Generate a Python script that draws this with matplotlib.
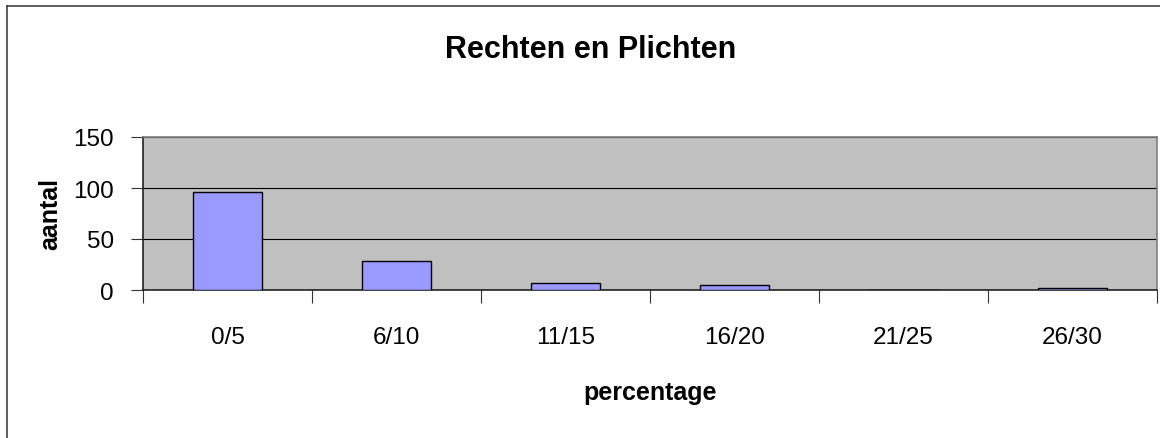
import matplotlib
matplotlib.use("Agg")
import matplotlib.pyplot as plt
from matplotlib.lines import Line2D
import numpy as np

# data
categories = ['0/5', '6/10', '11/15', '16/20', '21/25', '26/30']
aantal = [96, 28, 7, 5, 0, 2]
y_ticks = [0, 50, 100, 150]

plt.rcParams['font.family'] = ['Liberation Sans', 'DejaVu Sans']

W, H = 1160, 439
fig = plt.figure(figsize=(W / 100, H / 100), dpi=100)

# plot area in pixels: left 143, right 1157, top 138, bottom 291
left, right, top, bottom = 143, 1157, 138, 291
ax = fig.add_axes([left / W, 1 - bottom / H, (right - left) / W, (bottom - top) / H])

x = np.arange(len(categories))
ax.bar(x, aantal, width=0.41, color='#9999FF', edgecolor='black', linewidth=1.0, zorder=3)

ax.set_facecolor('#C0C0C0')
ax.set_xlim(-0.5, len(categories) - 0.5)
ax.set_ylim(0, 150)
ax.set_yticks(y_ticks)
ax.yaxis.grid(True, color='black', linewidth=0.8, zorder=1)
ax.set_axisbelow(True)

# category labels in the middle, tick marks on the boundaries
ax.set_xticks(x)
ax.set_xticklabels(categories)
ax.set_xticks(np.arange(-0.5, len(categories)), minor=True)
ax.tick_params(axis='x', which='major', length=0, pad=26, labelsize=17.5)
ax.tick_params(axis='x', which='minor', length=9, width=0.8, direction='out', color='#333333')
ax.tick_params(axis='y', length=9, width=0.8, direction='out', pad=12, labelsize=17.5, color='#333333')

for s in ['top', 'right']:
    ax.spines[s].set_color('#808080')
    ax.spines[s].set_linewidth(1.2)
for s in ['left', 'bottom']:
    ax.spines[s].set_color('#222222')
    ax.spines[s].set_linewidth(1.2)

ax.set_xlabel('percentage', fontsize=18, fontweight='bold')
ax.xaxis.label.set_va('center')
ax.xaxis.set_label_coords(0.5, (bottom - 393) / (bottom - top))
ax.set_ylabel('aantal', fontsize=18, fontweight='bold')
ax.yaxis.label.set_va('center')
ax.yaxis.set_label_coords((50 - left) / (right - left), 0.5)

fig.text(591 / W, 1 - 50 / H, 'Rechten en Plichten', fontsize=22, fontweight='bold',
         ha='center', va='center')

# outer chart frame (only left and top edges fall inside the picture)
fig.add_artist(Line2D([7 / W, 7 / W], [0, 1 - 7 / H], transform=fig.transFigure,
                      color='#333333', linewidth=1.1))
fig.add_artist(Line2D([7 / W, 1], [1 - 7 / H, 1 - 7 / H], transform=fig.transFigure,
                      color='#333333', linewidth=1.1))

fig.savefig('out.png', dpi=100, facecolor='white')
